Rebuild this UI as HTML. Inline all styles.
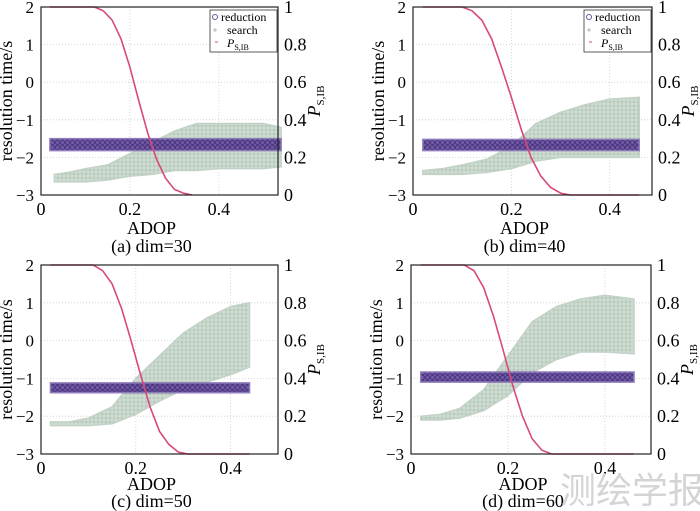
<!DOCTYPE html>
<html><head><meta charset="utf-8"><style>
html,body{margin:0;padding:0;background:#fff;}
svg{display:block;font-family:"Liberation Serif",serif;}
</style></head><body>
<svg id="c" width="700" height="511" viewBox="0 0 700 511" xmlns="http://www.w3.org/2000/svg">
<defs>
<pattern id="crossPat" width="4" height="4" patternUnits="userSpaceOnUse">
<rect width="4" height="4" fill="#cfdcd2"/>
<path d="M2 0.5V3.5M0.5 2H3.5" stroke="#a9bfae" stroke-width="0.8"/>
</pattern>
<pattern id="circPat" width="5" height="5" patternUnits="userSpaceOnUse">
<rect width="5" height="5" fill="#6a52a0"/>
<circle cx="2.5" cy="2.5" r="2" fill="none" stroke="#3a2272" stroke-width="0.8"/>
</pattern>
</defs>
<text x="560" y="503" font-family="'Noto Sans CJK SC',sans-serif" font-size="36" fill="#d4d4d4">测绘学报</text>
</svg>
<script>
// ---- data arrays ----
const yTicks = [-3,-2,-1,0,1,2];
const pTicks = [0,0.2,0.4,0.6,0.8,1];
const pTickLabels = ["0","0.2","0.4","0.6","0.8","1"];
const xTicks = [0,0.2,0.4];
const captions = ["(a) dim=30","(b) dim=40","(c) dim=50","(d) dim=60"];

const searchXa = [0.03,0.06,0.1,0.15,0.2,0.25,0.3,0.35,0.4,0.45,0.5,0.54];
const searchLoa = [-2.65,-2.65,-2.65,-2.6,-2.5,-2.45,-2.35,-2.35,-2.3,-2.3,-2.3,-2.25];
const searchHia = [-2.45,-2.4,-2.3,-2.2,-1.9,-1.6,-1.3,-1.1,-1.1,-1.1,-1.1,-1.2];
const redXa = [0.02,0.54];
const redLoa = [-1.82,-1.82];
const redHia = [-1.5,-1.5];
const pXa = [0.02,0.12,0.14,0.16,0.18,0.2,0.22,0.24,0.26,0.28,0.3,0.32,0.34];
const pYa = [1,1,0.98,0.93,0.83,0.68,0.5,0.33,0.19,0.09,0.03,0.01,0];

const searchXb = [0.02,0.06,0.1,0.15,0.2,0.25,0.3,0.35,0.4,0.46];
const searchLob = [-2.45,-2.45,-2.45,-2.4,-2.3,-2.1,-2.0,-2.0,-2.0,-2.0];
const searchHib = [-2.35,-2.3,-2.2,-2.05,-1.7,-1.1,-0.8,-0.6,-0.45,-0.4];
const redXb = [0.02,0.46];
const redLob = [-1.82,-1.82];
const redHib = [-1.52,-1.52];
const pXb = [0.02,0.1,0.12,0.14,0.16,0.18,0.2,0.22,0.24,0.26,0.28,0.3,0.32,0.46];
const pYb = [1,1,0.98,0.93,0.83,0.68,0.52,0.35,0.2,0.1,0.04,0.01,0,0];

const searchXc = [0.02,0.06,0.1,0.15,0.2,0.25,0.3,0.35,0.4,0.44];
const searchLoc = [-2.25,-2.25,-2.25,-2.2,-1.95,-1.6,-1.3,-1.1,-0.9,-0.7];
const searchHic = [-2.15,-2.15,-2.05,-1.75,-1.0,-0.4,0.2,0.6,0.9,1.0];
const redXc = [0.02,0.44];
const redLoc = [-1.38,-1.38];
const redHic = [-1.12,-1.12];
const pXc = [0.02,0.11,0.13,0.15,0.17,0.19,0.21,0.23,0.25,0.27,0.29,0.31,0.44];
const pYc = [1,1,0.97,0.9,0.77,0.6,0.42,0.25,0.12,0.05,0.01,0,0];

const searchXd = [0.02,0.06,0.1,0.15,0.2,0.25,0.3,0.35,0.4,0.46];
const searchLod = [-2.1,-2.1,-2.05,-1.85,-1.45,-0.85,-0.5,-0.3,-0.3,-0.35];
const searchHid = [-2.0,-1.95,-1.8,-1.3,-0.4,0.5,0.9,1.1,1.2,1.1];
const redXd = [0.02,0.46];
const redLod = [-1.1,-1.1];
const redHid = [-0.83,-0.83];
const pXd = [0.02,0.11,0.13,0.15,0.17,0.19,0.21,0.23,0.25,0.27,0.29,0.46];
const pYd = [1,1,0.97,0.88,0.73,0.55,0.36,0.2,0.08,0.02,0,0];

const panels = [
 {L:41,R:278,T:7,B:195,xmax:0.533,sx:searchXa,sl:searchLoa,sh:searchHia,rx:redXa,rl:redLoa,rh:redHia,px:pXa,py:pYa,legend:true,ao:39,co:57},
 {L:413,R:652,T:7,B:195,xmax:0.486,sx:searchXb,sl:searchLob,sh:searchHib,rx:redXb,rl:redLob,rh:redHib,px:pXb,py:pYb,legend:true,ao:39,co:57},
 {L:41,R:278,T:265,B:454,xmax:0.5,sx:searchXc,sl:searchLoc,sh:searchHic,rx:redXc,rl:redLoc,rh:redHic,px:pXc,py:pYc,legend:false,ao:36,co:53},
 {L:411,R:651,T:265,B:454,xmax:0.495,sx:searchXd,sl:searchLod,sh:searchHid,rx:redXd,rl:redLod,rh:redHid,px:pXd,py:pYd,legend:false,ao:36,co:53}
];

const NS="http://www.w3.org/2000/svg";
const svg=document.getElementById('c');
const wm=svg.lastElementChild;
function mk(tag,attrs,parent){const e=document.createElementNS(NS,tag);for(const k in attrs)e.setAttribute(k,attrs[k]);(parent||svg).insertBefore(e,parent?null:wm);return e;}

panels.forEach((p,i)=>{
  const g=mk('g',{});
  
  
  const xs=v=>p.L+(p.R-p.L)*v/p.xmax;
  const ys=v=>p.B-(p.B-p.T)*(v+3)/5;
  const ps=v=>p.B-(p.B-p.T)*v;
  yTicks.forEach(t=>{if(t>-3&&t<2){const l=mk('line',{x1:p.L,x2:p.R,y1:ys(t),y2:ys(t),stroke:'#ccc','stroke-dasharray':'1,2','stroke-width':0.8},g);}});
  xTicks.forEach(t=>{if(t>0){const l=mk('line',{x1:xs(t),x2:xs(t),y1:p.T,y2:p.B,stroke:'#ccc','stroke-dasharray':'1,2','stroke-width':0.8},g);}});
  let d='M'+p.sx.map((x,k)=>xs(x)+','+ys(p.sh[k])).join('L')+'L'+p.sx.slice().reverse().map((x,k)=>xs(x)+','+ys(p.sl[p.sl.length-1-k])).join('L')+'Z';
  const sb=mk('path',{d:d,fill:'url(#crossPat)',stroke:'#c2d2c6','stroke-width':1.5},g);
  
  
  d='M'+p.rx.map((x,k)=>xs(x)+','+ys(p.rh[k])).join('L')+'L'+p.rx.slice().reverse().map((x,k)=>xs(x)+','+ys(p.rl[p.rl.length-1-k])).join('L')+'Z';
  const rb=mk('path',{d:d,fill:'url(#circPat)',stroke:'#8a78b8','stroke-width':1.5,opacity:0.95},g);
  
  
  const pc=mk('polyline',{points:p.px.map((x,k)=>xs(x)+','+ps(p.py[k])).join(' '),fill:'none',stroke:'#d9487c','stroke-width':1.6},g);
  
  
  const fr=mk('rect',{x:p.L,y:p.T,width:p.R-p.L,height:p.B-p.T,fill:'none',stroke:'#222','stroke-width':1.2},g);
  
  
  yTicks.forEach(t=>{const tx=mk('text',{x:p.L-7,y:ys(t)+6,'text-anchor':'end','font-size':17},g);tx.textContent=t<0?'\u2212'+(-t):t;});
  pTicks.forEach((t,k)=>{const tx=mk('text',{x:p.R+6,y:ps(t)+6,'font-size':18},g);tx.textContent=pTickLabels[k];});
  xTicks.forEach(t=>{const tx=mk('text',{x:xs(t),y:p.B+20,'text-anchor':'middle','font-size':18},g);tx.textContent=t;});
  const xl=mk('text',{x:(p.L+p.R)/2-8,y:p.B+p.ao,'text-anchor':'middle','font-size':18},g);xl.textContent='ADOP';
  
  
  const cp=mk('text',{x:(p.L+p.R)/2-8,y:p.B+p.co,'text-anchor':'middle','font-size':18},g);cp.textContent=captions[i];
  
  
  const yl=mk('text',{x:0,y:0,'text-anchor':'middle','font-size':18,transform:`translate(${p.L-29},${(p.T+p.B)/2}) rotate(-90)`},g);yl.textContent='resolution time/s';
  
  
  const pl=mk('text',{x:0,y:0,'text-anchor':'middle','font-size':18,transform:`translate(${p.R+42},${(p.T+p.B)/2}) rotate(-90)`},g);
  pl.innerHTML='<tspan font-style="italic">P</tspan><tspan font-size="11" dy="4">S,IB</tspan>';
  
  
  if(p.legend){
    const lg=mk('g',{},g);
    
    
    const lx=p.R-68,ly=p.T+3;
    mk('rect',{x:lx,y:ly,width:67,height:42,fill:'#fff',stroke:'#333','stroke-width':0.8},lg);
    mk('circle',{cx:lx+5,cy:ly+7,r:2.5,fill:'none',stroke:'#6a52a0'},lg);
    const t1=mk('text',{x:lx+11,y:ly+11,'font-size':12},lg);t1.textContent='reduction';
    
    
    mk('path',{d:`M${lx+5} ${ly+18}v4M${lx+3} ${ly+20}h4`,stroke:'#a9bfae'},lg);
    const t2=mk('text',{x:lx+17,y:ly+24,'font-size':12},lg);t2.textContent='search';
    
    
    mk('path',{d:`M${lx+5} ${ly+32}h3`,stroke:'#d9487c'},lg);
    const t3=mk('text',{x:lx+17,y:ly+37,'font-size':12},lg);
    t3.innerHTML='<tspan font-style="italic">P</tspan><tspan font-size="8" dy="3">S,IB</tspan>';
    
    
  }
});
</script>
</body></html>
